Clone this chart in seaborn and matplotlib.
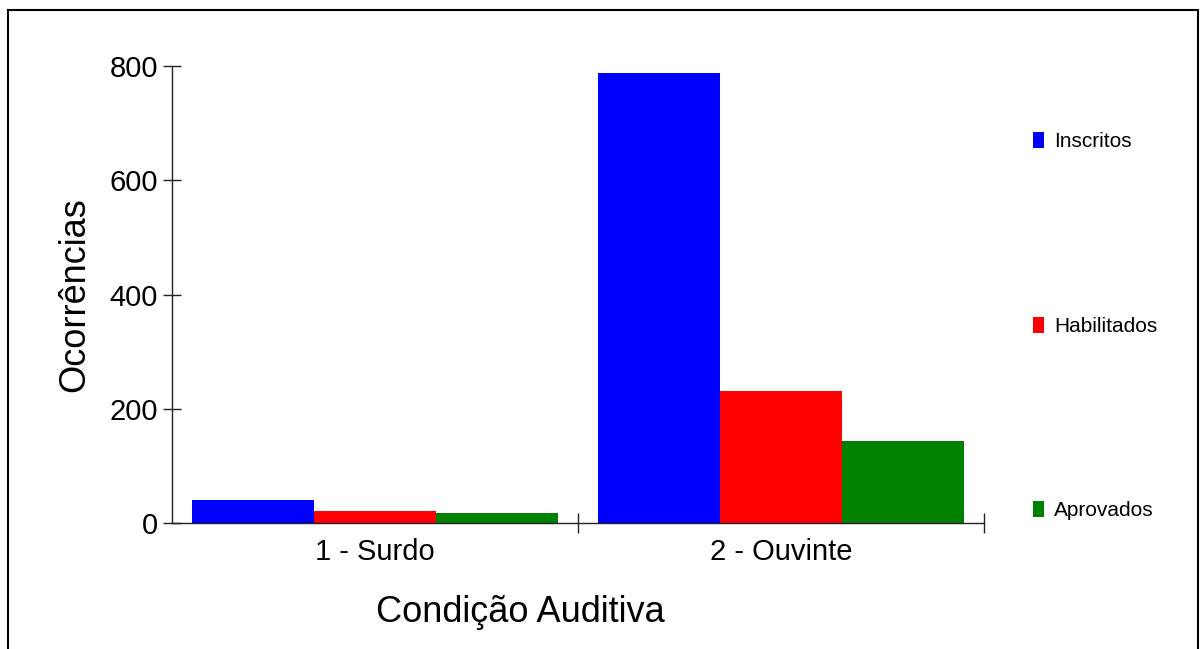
import pandas as pd
import seaborn as sns
import matplotlib.pyplot as plt
from matplotlib.patches import Rectangle
from matplotlib.ticker import FixedLocator

categorias = ["1 - Surdo", "2 - Ouvinte"]
inscritos = [41, 787]
habilitados = [21, 231]
aprovados = [17, 143]
series = ["Inscritos", "Habilitados", "Aprovados"]
cores = {"Inscritos": "#0000ff", "Habilitados": "#ff0000", "Aprovados": "#008000"}


def main():
    df = pd.DataFrame({"Condição": categorias,
                       "Inscritos": inscritos,
                       "Habilitados": habilitados,
                       "Aprovados": aprovados})
    df_melt = df.melt(id_vars="Condição", value_vars=series,
                      var_name="Grupo", value_name="Ocorrências")

    sns.set_style("ticks")
    plt.rcParams["font.family"] = ["Liberation Sans", "DejaVu Sans"]
    plt.rcParams["text.color"] = "black"
    plt.rcParams["axes.labelcolor"] = "black"
    plt.rcParams["xtick.labelcolor"] = "black"
    plt.rcParams["ytick.labelcolor"] = "black"

    fig = plt.figure(figsize=(12, 6.49), dpi=100)
    ax = fig.add_axes([172 / 1200, 1 - 523 / 649, 812 / 1200, 457 / 649])
    sns.barplot(data=df_melt, x="Condição", y="Ocorrências", hue="Grupo",
                hue_order=series, palette=cores, width=0.9, saturation=1,
                linewidth=0, ax=ax)

    ax.set_xlim(-0.5, 1.5)
    ax.set_ylim(0, 800)
    ax.set_yticks([0, 200, 400, 600, 800])
    sns.despine(ax=ax)
    for s in ["left", "bottom"]:
        ax.spines[s].set_color("#222222")
        ax.spines[s].set_linewidth(1)

    ax.tick_params(axis="y", direction="inout", length=13, width=1,
                   labelsize=21, color="#222222", labelcolor="black")
    ax.tick_params(axis="x", which="major", length=0, pad=11, labelsize=21,
                   labelcolor="black")
    ax.xaxis.set_minor_locator(FixedLocator([0.5, 1.5]))
    ax.tick_params(axis="x", which="minor", direction="inout", length=14,
                   width=1, color="#222222")

    ax.set_xlabel("Condição Auditiva", fontsize=26, color="black")
    ax.set_ylabel("Ocorrências", fontsize=26, color="black")
    ax.xaxis.set_label_coords(0.4286, -0.158)
    ax.yaxis.set_label_coords(-0.0985, 0.5)

    sns.move_legend(ax, "upper left", bbox_to_anchor=(1033 / 1200, 1 - 132 / 649),
                    bbox_transform=fig.transFigure, title=None, frameon=False,
                    fontsize=15, labelspacing=7.93, handlelength=0.53,
                    handleheight=0.82, handletextpad=0.48, borderpad=0,
                    borderaxespad=0, labelcolor="black")

    fig.patches.append(Rectangle((8 / 1200, -0.05), 1190 / 1200, 1.05 - 10 / 649,
                                 transform=fig.transFigure, fill=False,
                                 edgecolor="black", linewidth=1.5))

    fig.savefig("out.png", dpi=100)
    plt.close(fig)


if __name__ == '__main__':
    main()
